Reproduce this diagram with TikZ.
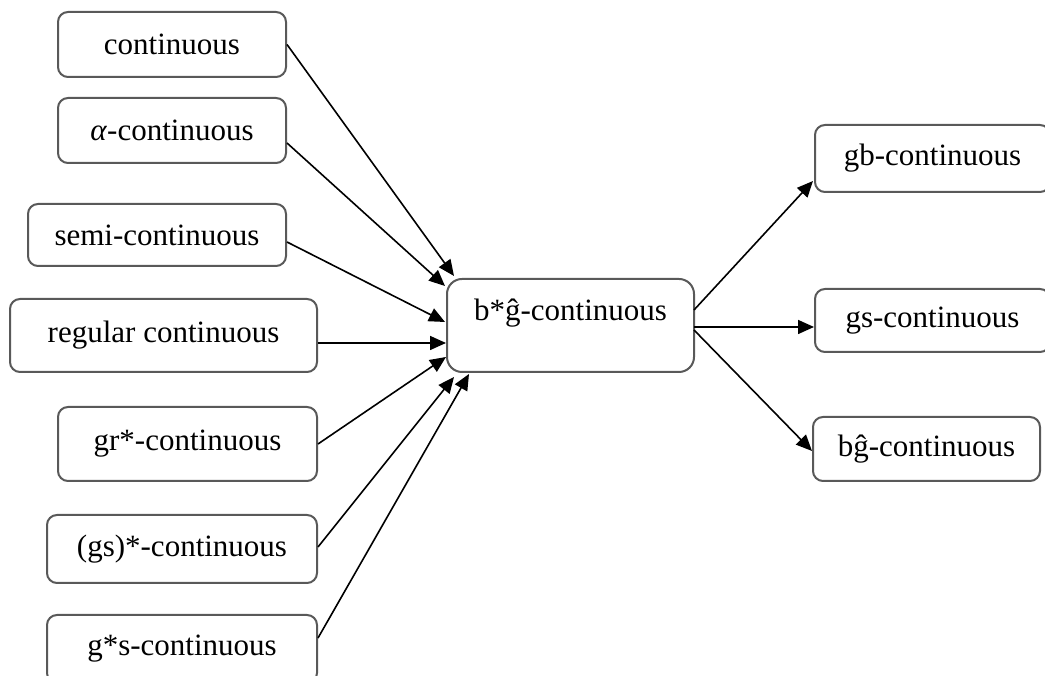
\documentclass[tikz,border=0pt]{standalone}
\usepackage{fontspec}
\setmainfont{Liberation Serif}
\usetikzlibrary{arrows.meta}
\tikzset{
  box/.style={draw=black!65, line width=2pt, rounded corners=10pt, fill=white,
    inner sep=0pt, font=\fontsize{31}{35}\selectfont},
  cbox/.style={box, rounded corners=15pt},
  lbl/.style={inner sep=0pt, font=\fontsize{31}{35}\selectfont},
  conn/.style={draw=black, line width=1.6pt, -{Triangle[length=16pt,width=14pt]}}
}
\begin{document}
\begin{tikzpicture}[x=1pt,y=1pt]
\clip (0,0) rectangle (1045,676);
\fill[white] (0,0) rectangle (1045,676);
% left nodes
\node[box, minimum width=228pt, minimum height=65pt] (n1) at (172,631.5) {continuous};
\node[box, minimum width=228pt, minimum height=65pt] (n2) at (172,545.5) {\textit{α}-continuous};
\node[box, minimum width=258pt, minimum height=62pt] (n3) at (157,441) {semi-continuous};
\node[box, minimum width=307pt, minimum height=73pt] (n4) at (163.5,340.5) {regular continuous};
\node[box, minimum width=259pt, minimum height=74pt] (n5) at (187.5,232) {gr*-continuous};
\node[box, minimum width=270pt, minimum height=68pt] (n6) at (182,127) {(gs)*-continuous};
\node[box, minimum width=270pt, minimum height=68pt] (n7) at (182,27) {g*s-continuous};
% center node
\node[cbox, minimum width=247pt, minimum height=93pt] (c) at (570.5,350.5) {};
\node[lbl] (ct) at (570.5,363) {b*ĝ-continuous};
% right nodes
\node[box, minimum width=235pt, minimum height=67pt] (r1) at (932.5,517.5) {gb-continuous};
\node[box, minimum width=235pt, minimum height=63pt] (r2) at (932.5,355.5) {gs-continuous};
\node[box, minimum width=227pt, minimum height=64pt] (r3) at (926.5,227) {bĝ-continuous};
% connectors into center
\draw[conn] (n1.east) -- ([shift={(8,2)}]c.north west);
\draw[conn] ([yshift=-12.5pt]n2.east) -- ([shift={(-1,-8)}]c.north west);
\draw[conn] ([yshift=-7pt]n3.east) -- ([shift={(-1,-44)}]c.north west);
\draw[conn] ([yshift=-7.5pt]n4.east) -- ([shift={(0,-65)}]c.north west);
\draw[conn] (n5.east) -- ([shift={(0,16)}]c.south west);
\draw[conn] ([yshift=2pt]n6.east) -- ([shift={(8,-4)}]c.south west);
\draw[conn] ([yshift=11pt]n7.east) -- ([shift={(23,-1)}]c.south west);
% connectors out of center
\draw[conn] ([shift={(-1,15.5)}]c.east) -- ([shift={(-1,12)}]r1.south west);
\draw[conn] ([shift={(-1,-1.5)}]c.east) -- ([yshift=-6.5pt]r2.west);
\draw[conn] ([shift={(-1,-4.5)}]c.east) -- ([yshift=-2pt]r3.west);
\end{tikzpicture}
\end{document}
